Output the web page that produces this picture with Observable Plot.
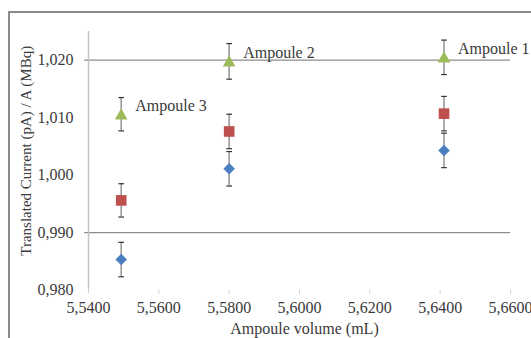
<!DOCTYPE html>
<html>
<head>
<meta charset="utf-8">
<script src="https://cdn.jsdelivr.net/npm/d3@7"></script>
<script src="https://cdn.jsdelivr.net/npm/@observablehq/plot@0.6"></script>
<style>
  html, body { margin: 0; padding: 0; background: #fff; overflow: hidden; }
  #wrap { position: relative; width: 531px; height: 338px; overflow: hidden; }
  #border { position: absolute; left: 8px; top: 11px; width: 700px; height: 500px; border-left: 2px solid #8a8a8a; border-top: 2px solid #8a8a8a; }
  #chart { position: absolute; left: 0; top: 0; }
  #chart svg, #chart svg text { font-family: "Liberation Serif", "DejaVu Serif", serif !important; }
</style>
</head>
<body>
<div id="wrap"><div id="border"></div><div id="chart"></div></div>
<script>
const ampoules = ["Ampoule 3", "Ampoule 2", "Ampoule 1"];
const volumes = [5.5493, 5.5800, 5.6411];
const diamondValues = [0.9853, 1.0011, 1.0043];
const diamondErrors = [0.0030, 0.0030, 0.0030];
const squareValues = [0.9956, 1.0076, 1.0107];
const squareErrors = [0.0029, 0.0030, 0.0030];
const triangleValues = [1.0106, 1.0198, 1.0205];
const triangleErrors = [0.0029, 0.0031, 0.0030];
const xTicks = [5.54, 5.56, 5.58, 5.60, 5.62, 5.64, 5.66];
const yTicks = [0.98, 0.99, 1.00, 1.01, 1.02];
const gridValues = [0.99, 1.02];

const series = [
  {name: "diamond", values: diamondValues, errors: diamondErrors},
  {name: "square", values: squareValues, errors: squareErrors},
  {name: "triangle", values: triangleValues, errors: triangleErrors}
];
const rows = series.flatMap(s => volumes.map((v, i) => ({
  series: s.name, x: v, y: s.values[i], lo: s.values[i] - s.errors[i], hi: s.values[i] + s.errors[i]
})));
const labels = ampoules.map((a, i) => ({label: a, x: volumes[i], y: triangleValues[i]}));

const capSymbol = { draw(ctx, size) { const w = Math.sqrt(size) / 2; ctx.moveTo(-w, 0); ctx.lineTo(w, 0); } };
const triSymbol = { draw(ctx, size) { const r = Math.sqrt(size) / 2; ctx.moveTo(0, -r * 1.05); ctx.lineTo(r * 1.1, r * 0.9); ctx.lineTo(-r * 1.1, r * 0.9); ctx.closePath(); } };
const sqSymbol = { draw(ctx, size) { const r = Math.sqrt(size) / 2; ctx.rect(-r, -r, 2 * r, 2 * r); } };
const diaSymbol = { draw(ctx, size) { const r = Math.sqrt(size) / 2; ctx.moveTo(0, -r); ctx.lineTo(r, 0); ctx.lineTo(0, r); ctx.lineTo(-r, 0); ctx.closePath(); } };

const fmt = d => d.toFixed(3).replace(".", ",");
const fmtX = d => d.toFixed(4).replace(".", ",");
const font = "Liberation Serif";

const chart = Plot.plot({
  width: 531,
  height: 338,
  marginLeft: 88,
  marginRight: 21,
  marginTop: 31,
  marginBottom: 48.5,
  style: {fontFamily: font, fontSize: "16px", background: "transparent", color: "#3a3a3a"},
  x: {domain: [5.54, 5.66]},
  y: {domain: [0.98, 1.025]},
  marks: [
    Plot.ruleY(gridValues, {x1: 5.5389, x2: 5.66, stroke: "#8c8c8c", strokeWidth: 1.2}),
    Plot.ruleX([5.54], {y1: 0.98, y2: 1.025, stroke: "#c4c4c4", strokeWidth: 1.5}),
    Plot.axisY({ticks: yTicks, tickFormat: fmt, tickSize: 0, tickPadding: 15, label: null, fill: "#3a3a3a", fontFamily: font}),
    Plot.axisX({ticks: xTicks, tickFormat: fmtX, tickSize: 4, tickPadding: 8, stroke: "#d0d0d0", fill: "#3a3a3a", label: null, fontFamily: font}),
    Plot.ruleX(rows, {x: "x", y1: "lo", y2: "hi", stroke: "#9a9a9a", strokeWidth: 1.6}),
    Plot.dot(rows, {x: "x", y: "lo", symbol: capSymbol, r: 3.2, stroke: "#333", strokeWidth: 1.2, fill: "none"}),
    Plot.dot(rows, {x: "x", y: "hi", symbol: capSymbol, r: 3.2, stroke: "#333", strokeWidth: 1.2, fill: "none"}),
    Plot.dot(rows.filter(d => d.series === "diamond"), {x: "x", y: "y", symbol: diaSymbol, r: 6.5, fill: "#4a7ebf", stroke: "none"}),
    Plot.dot(rows.filter(d => d.series === "square"), {x: "x", y: "y", symbol: sqSymbol, r: 6, fill: "#c0504d", stroke: "none"}),
    Plot.dot(rows.filter(d => d.series === "triangle"), {x: "x", y: "y", symbol: triSymbol, r: 6.5, fill: "#9bbb59", stroke: "none"}),
    Plot.text(labels, {x: "x", y: "y", text: "label", textAnchor: "start", dx: 14, dy: -8, fill: "#3a3a3a", fontSize: 16, fontFamily: font}),
    Plot.text(["Translated Current (pA) / A (MBq)"], {frameAnchor: "left", textAnchor: "middle", lineAnchor: "middle", rotate: -90, dx: -62, dy: -10, fill: "#3a3a3a", fontSize: 15, fontFamily: font}),
    Plot.text(["Ampoule volume (mL)"], {frameAnchor: "bottom", textAnchor: "middle", lineAnchor: "middle", dx: 5, dy: 38.5, fill: "#3a3a3a", fontSize: 16, fontFamily: font})
  ]
});
document.getElementById("chart").appendChild(chart);
</script>
</body>
</html>
